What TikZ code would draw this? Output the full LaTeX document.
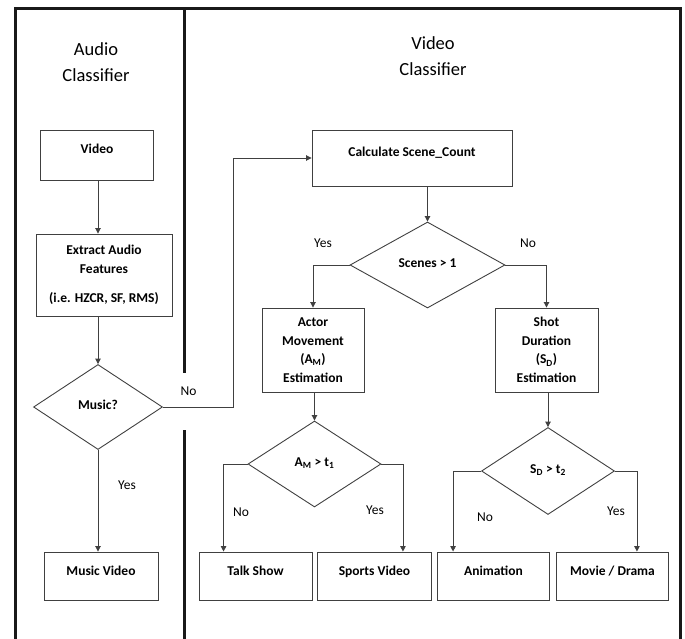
\documentclass[tikz,border=0pt]{standalone}
\usepackage{fontspec}
\setmainfont{Carlito}
\usetikzlibrary{arrows.meta, shapes.geometric}
\tikzset{
		flow box/.style={draw=black!75, line width=0.9pt, inner sep=0pt, align=center,
			font=\fontsize{13.5}{18.5}\selectfont\bfseries},
		single line/.style={text height=9pt, text depth=11pt},
		result/.style={flow box, single line, minimum width=113pt, minimum height=48pt},
		decision/.style={diamond, draw=black!75, line width=0.9pt, inner sep=0pt,
			text height=9pt, text depth=5pt, font=\fontsize{13.5}{15}\selectfont\bfseries},
		answer/.style={font=\fontsize{13.5}{15}\selectfont},
		lane title/.style={align=center, font=\fontsize{18.5}{26}\selectfont},
		lane line/.style={line width=3pt, black!90},
		link/.style={line width=0.9pt, black!75}
	}

\begin{document}
\begin{tikzpicture}[x=1pt, y=-1pt, >={Triangle[length=5.5pt,width=5.5pt]}, node distance=119pt]
				\useasboundingbox (0,0) rectangle (685,639);
				% lanes
				\draw[lane line] (15,639) -- (15,8.5) -- (680,8.5) -- (680,639);
				\draw[lane line] (184,8.5) -- (184,373);
				\draw[lane line] (184,430) -- (184,639);
				\node[lane title] (audiotitle) at (96,62) {Audio\\Classifier};
				\node[lane title] (videotitle) at (433,56) {Video\\Classifier};

				% audio classifier
				\node[flow box, single line, minimum width=113pt, minimum height=50pt] (video) at (97,155) {Video};
				\node[flow box, minimum width=136pt, minimum height=82pt] (extract) at (104,275)
					{Extract Audio\\Features\\[11pt](i.e. HZCR, SF, RMS)};
				\node[decision, minimum width=129pt, minimum height=85pt] (music) at (98,407) {Music?};
				\node[result, minimum width=114pt] (musicvideo) at (101,576) {Music Video};
				\coordinate (musicbend) at (233,407);

				% video classifier
				\node[flow box, single line, minimum width=200pt, minimum height=56pt] (count) at (412,158) {Calculate Scene\_Count};
				\node[decision, minimum width=155pt, minimum height=86pt] (scenes) at (427.5,265) {Scenes > 1};
				\node[flow box, minimum width=102pt, minimum height=84pt] (actor) at (313,350)
					{Actor\\Movement\\(A\textsubscript{M})\\Estimation};
				\node[flow box, minimum width=103pt, minimum height=84pt] (shot) at (546.5,350)
					{Shot\\Duration\\(S\textsubscript{D})\\Estimation};
				\node[decision, minimum width=133pt, minimum height=86pt] (movement) at (314.5,464)
					{A\textsubscript{M} > t\textsubscript{1}};
				\node[decision, minimum width=133pt, minimum height=87pt] (duration) at (548,471)
					{S\textsubscript{D} > t\textsubscript{2}};
				\node[result]                 (talk)               at (255.5,576) {Talk Show};
				\node[result, minimum width=114pt] (sports) [right of = talk]   {Sports Video};
				\node[result, minimum width=112pt] (animation) [right of = sports] {Animation};
				\node[result, minimum width=112pt] (movie) [right of = animation]  {Movie / Drama};

				% answers
				\node[answer] (nomusic)   at (188.5,391) {No};
				\node[answer] (yesmusic)  at (127,485)   {Yes};
				\node[answer] (yesscenes) at (323,243)   {Yes};
				\node[answer] (noscenes)  at (528,243)   {No};
				\node[answer] (nomove)    at (241,512)   {No};
				\node[answer] (yesmove)   at (375,510)   {Yes};
				\node[answer] (noshot)    at (485,517)   {No};
				\node[answer] (yesshot)   at (616,511)   {Yes};

				\path[link, ->] (video.south -| music.north) edge (extract.north -| music.north);
				\path[link, ->] (extract.south -| music.north) edge (music.north);
				\path[link, ->] (music.south) edge (musicvideo.north -| music.south);
				\draw[link, ->] (music.east) -- (musicbend) |- (count.west);
				\path[link, ->] (count.south -| scenes.north) edge (scenes.north);
				\draw[link, ->] (scenes.west) -| (actor.north);
				\draw[link, ->] (scenes.east) -| (shot.north);
				\path[link, ->] (actor.south -| movement.north) edge (movement.north);
				\path[link, ->] (shot.south -| duration.north) edge (duration.north);
				\draw[link, ->] (movement.west) -| ([xshift=25pt]talk.north west);
				\draw[link, ->] (movement.east) -| ([xshift=-29pt]sports.north east);
				\draw[link, ->] (duration.west) -| ([xshift=16pt]animation.north west);
				\draw[link, ->] (duration.east) -| ([xshift=-32pt]movie.north east);
			\end{tikzpicture}
\end{document}
